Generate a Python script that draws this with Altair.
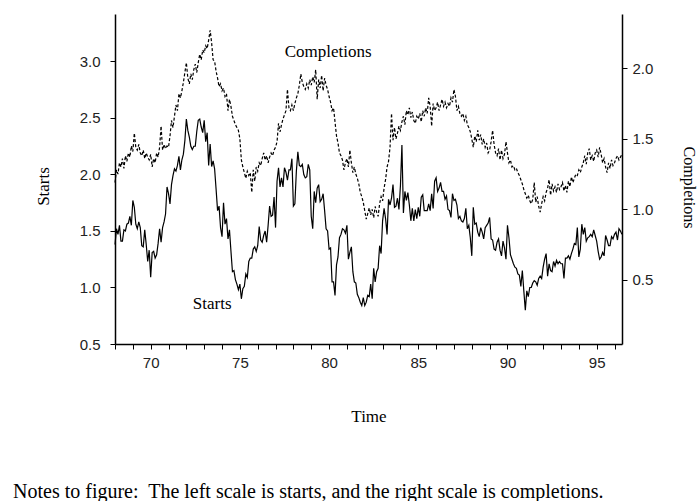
import altair as alt
import pandas as pd

# Monthly housing starts and completions (millions of units, annual rate),
# January 1968 through June 1996.
first_year = 68

starts = [
    # 1968
    1.38, 1.52, 1.47, 1.55, 1.41, 1.41, 1.51, 1.50, 1.56, 1.57, 1.63, 1.55,
    # 1969
    1.77, 1.71, 1.56, 1.52, 1.58, 1.53, 1.37, 1.36, 1.51, 1.38, 1.23, 1.33,
    # 1970
    1.09, 1.31, 1.32, 1.26, 1.29, 1.39, 1.52, 1.40, 1.53, 1.58, 1.65, 1.89,
    # 1971
    1.83, 1.74, 1.91, 1.99, 2.05, 2.03, 2.08, 2.16, 2.04, 2.13, 2.18, 2.30,
    # 1972
    2.49, 2.39, 2.33, 2.25, 2.22, 2.25, 2.25, 2.38, 2.48, 2.49, 2.42, 2.37,
    # 1973
    2.48, 2.29, 2.37, 2.08, 2.27, 2.07, 2.12, 2.05, 1.87, 1.68, 1.72, 1.53,
    # 1974
    1.45, 1.75, 1.56, 1.61, 1.43, 1.51, 1.32, 1.14, 1.15, 1.07, 1.03, 0.98,
    # 1975
    1.03, 0.90, 0.99, 1.01, 1.12, 1.09, 1.23, 1.26, 1.26, 1.34, 1.36, 1.32,
    # 1976
    1.37, 1.54, 1.42, 1.40, 1.46, 1.50, 1.40, 1.55, 1.72, 1.63, 1.64, 1.80,
    # 1977
    1.53, 1.94, 2.06, 1.89, 1.97, 1.89, 2.06, 2.02, 1.95, 2.04, 2.04, 2.14,
    # 1978
    1.72, 1.74, 2.03, 2.20, 2.08, 2.07, 2.09, 2.00, 1.97, 1.98, 2.09, 2.04,
    # 1979
    1.63, 1.52, 1.85, 1.75, 1.88, 1.91, 1.76, 1.78, 1.83, 1.68, 1.52, 1.50,
    # 1980
    1.34, 1.35, 1.05, 1.05, 0.93, 1.20, 1.27, 1.44, 1.47, 1.52, 1.51, 1.48,
    # 1981
    1.55, 1.25, 1.31, 1.36, 1.14, 1.05, 1.04, 0.94, 0.91, 0.87, 0.84, 0.91,
    # 1982
    0.84, 0.87, 0.93, 0.92, 1.03, 0.90, 1.17, 1.05, 1.14, 1.17, 1.37, 1.30,
    # 1983
    1.59, 1.70, 1.61, 1.47, 1.78, 1.73, 1.79, 1.91, 1.71, 1.72, 1.79, 1.69,
    # 1984
    1.90, 2.26, 1.66, 1.85, 1.77, 1.84, 1.73, 1.59, 1.70, 1.59, 1.69, 1.61,
    # 1985
    1.71, 1.63, 1.80, 1.82, 1.68, 1.68, 1.68, 1.74, 1.68, 1.83, 1.70, 1.94,
    # 1986
    1.97, 1.85, 1.88, 1.93, 1.85, 1.85, 1.78, 1.81, 1.69, 1.68, 1.62, 1.83,
    # 1987
    1.77, 1.78, 1.73, 1.61, 1.63, 1.59, 1.58, 1.61, 1.70, 1.52, 1.55, 1.44,
    # 1988
    1.28, 1.71, 1.56, 1.57, 1.49, 1.45, 1.53, 1.49, 1.43, 1.53, 1.55, 1.57,
    # 1989
    1.62, 1.43, 1.42, 1.34, 1.33, 1.40, 1.43, 1.33, 1.28, 1.41, 1.35, 1.25,
    # 1990
    1.55, 1.44, 1.29, 1.25, 1.21, 1.18, 1.17, 1.12, 1.11, 1.01, 1.15, 0.97,
    # 1991
    0.80, 0.97, 0.92, 1.00, 1.00, 1.04, 1.06, 1.05, 1.02, 1.08, 1.10, 1.08,
    # 1992
    1.18, 1.25, 1.30, 1.10, 1.21, 1.15, 1.14, 1.23, 1.19, 1.24, 1.21, 1.23,
    # 1993
    1.21, 1.21, 1.08, 1.26, 1.26, 1.28, 1.25, 1.30, 1.34, 1.39, 1.38, 1.53,
    # 1994
    1.27, 1.34, 1.56, 1.47, 1.53, 1.41, 1.44, 1.45, 1.47, 1.45, 1.51, 1.46,
    # 1995
    1.41, 1.32, 1.25, 1.27, 1.31, 1.28, 1.46, 1.42, 1.37, 1.37, 1.45, 1.43,
    # 1996
    1.47, 1.49, 1.42, 1.52, 1.50, 1.47,
]

completions = [
    # 1968
    1.19, 1.28, 1.25, 1.33, 1.30, 1.36, 1.29, 1.38, 1.34, 1.40, 1.37, 1.45,
    # 1969
    1.41, 1.54, 1.44, 1.42, 1.46, 1.40, 1.38, 1.42, 1.36, 1.40, 1.37, 1.35,
    # 1970
    1.39, 1.30, 1.36, 1.33, 1.40, 1.37, 1.44, 1.59, 1.42, 1.46, 1.43, 1.45,
    # 1971
    1.44, 1.52, 1.63, 1.58, 1.66, 1.74, 1.70, 1.82, 1.79, 1.84, 1.90, 1.97,
    # 1972
    2.04, 1.93, 1.89, 1.96, 1.92, 1.99, 2.03, 1.97, 2.04, 2.10, 2.06, 2.13,
    # 1973
    2.11, 2.16, 2.14, 2.20, 2.27, 2.18, 2.06, 2.05, 1.98, 1.93, 1.87, 1.89,
    # 1974
    1.84, 1.86, 1.80, 1.82, 1.70, 1.78, 1.73, 1.66, 1.63, 1.60, 1.58, 1.56,
    # 1975
    1.50, 1.35, 1.30, 1.26, 1.22, 1.27, 1.24, 1.26, 1.12, 1.28, 1.20, 1.30,
    # 1976
    1.27, 1.33, 1.31, 1.36, 1.40, 1.35, 1.38, 1.33, 1.37, 1.40, 1.38, 1.42,
    # 1977
    1.44, 1.48, 1.61, 1.55, 1.60, 1.64, 1.67, 1.70, 1.85, 1.72, 1.70, 1.74,
    # 1978
    1.70, 1.75, 1.79, 1.82, 1.88, 1.96, 1.90, 1.87, 1.85, 1.89, 1.86, 1.92,
    # 1979
    1.88, 1.94, 1.90, 1.99, 1.78, 1.92, 1.86, 1.95, 1.84, 1.93, 1.88, 1.85,
    # 1980
    1.80, 1.76, 1.70, 1.72, 1.62, 1.52, 1.47, 1.40, 1.38, 1.35, 1.28, 1.33,
    # 1981
    1.36, 1.30, 1.42, 1.33, 1.26, 1.30, 1.25, 1.22, 1.18, 1.12, 1.09, 1.05,
    # 1982
    0.99, 0.93, 0.97, 1.01, 0.96, 1.00, 0.94, 1.02, 0.98, 0.95, 1.04, 1.09,
    # 1983
    1.06, 1.15, 1.21, 1.30, 1.34, 1.44, 1.68, 1.49, 1.58, 1.50, 1.54, 1.59,
    # 1984
    1.56, 1.62, 1.66, 1.60, 1.70, 1.67, 1.72, 1.65, 1.69, 1.63, 1.61, 1.66,
    # 1985
    1.64, 1.68, 1.62, 1.70, 1.66, 1.72, 1.68, 1.79, 1.73, 1.59, 1.75, 1.70,
    # 1986
    1.72, 1.76, 1.70, 1.74, 1.78, 1.73, 1.76, 1.72, 1.75, 1.73, 1.79, 1.76,
    # 1987
    1.85, 1.80, 1.70, 1.73, 1.68, 1.66, 1.68, 1.63, 1.66, 1.60, 1.58, 1.55,
    # 1988
    1.50, 1.44, 1.52, 1.48, 1.56, 1.49, 1.53, 1.46, 1.50, 1.44, 1.47, 1.40,
    # 1989
    1.42, 1.48, 1.56, 1.46, 1.40, 1.38, 1.43, 1.35, 1.42, 1.36, 1.39, 1.48,
    # 1990
    1.40, 1.33, 1.35, 1.30, 1.31, 1.28, 1.29, 1.26, 1.24, 1.21, 1.18, 1.14,
    # 1991
    1.11, 1.08, 1.10, 1.06, 1.04, 1.07, 1.19, 1.05, 1.09, 1.02, 0.98, 1.04,
    # 1992
    1.09, 1.06, 1.12, 1.15, 1.21, 1.10, 1.18, 1.13, 1.16, 1.12, 1.18, 1.14,
    # 1993
    1.16, 1.19, 1.13, 1.17, 1.12, 1.20, 1.16, 1.23, 1.19, 1.22, 1.25, 1.24,
    # 1994
    1.28, 1.26, 1.30, 1.33, 1.38, 1.32, 1.40, 1.43, 1.35, 1.38, 1.34, 1.40,
    # 1995
    1.42, 1.37, 1.44, 1.39, 1.33, 1.36, 1.30, 1.26, 1.33, 1.29, 1.35, 1.31,
    # 1996
    1.33, 1.36, 1.38, 1.35, 1.37, 1.39,
]

year_ticks = list(range(68, 97))
starts_ticks = [0.5, 1.0, 1.5, 2.0, 2.5, 3.0]
completions_ticks = [0.5, 1.0, 1.5, 2.0]

# In-plot series labels, placed on the starts scale
label_text = ["Completions", "Starts"]
label_x = [79.95, 73.45]
label_y = [3.08, 0.855]

note_text = "Notes to figure:\u00a0 The left scale is starts, and the right scale is completions."

df = pd.DataFrame({
    "time": [first_year + i / 12 for i in range(len(starts))],
    "starts": starts,
    "completions": completions,
})
labels = pd.DataFrame({"time": label_x, "level": label_y, "label": label_text})
note = pd.DataFrame({"note": [note_text]})

SERIF = "Liberation Serif"
SANS = "Liberation Sans"

x_scale = alt.Scale(domain=[68, 96.42], nice=False, zero=False)
x_axis = alt.Axis(
    values=year_ticks,
    labelExpr="datum.value % 5 == 0 ? format(datum.value, 'd') : ''",
    title="Time", titleFont=SERIF, titleFontSize=17, titleFontWeight="normal",
    titleBaseline="alphabetic", titleY=77,
    labelFont=SANS, labelFontSize=15, labelColor="#222", labelPadding=6,
    labelOverlap=False,
    tickSize=5, tickColor="black", domainColor="black", domainWidth=1.5,
    grid=False,
)

starts_axis = alt.Axis(
    values=starts_ticks, format=".1f", orient="left",
    title="Starts", titleFont=SERIF, titleFontSize=17, titleFontWeight="normal",
    titleX=-72, titleY=172, titleBaseline="middle", titleAlign="center", titleAngle=270,
    labelFont=SANS, labelFontSize=15, labelColor="#222", labelPadding=10,
    tickSize=5, tickColor="black", domainColor="black", domainWidth=1.5,
    grid=False,
)

completions_axis = alt.Axis(
    values=completions_ticks, format=".1f", orient="right",
    title="Completions", titleFont=SERIF, titleFontSize=16, titleFontWeight="normal",
    titleX=66, titleY=173, titleBaseline="middle", titleAlign="center", titleAngle=90,
    labelFont=SANS, labelFontSize=15, labelColor="#222", labelPadding=5,
    tickSize=5, tickColor="black", domainColor="black", domainWidth=1.5,
    grid=False,
)

starts_scale = alt.Scale(domain=[0.5, 3.42], nice=False, zero=False)
completions_scale = alt.Scale(domain=[0.045, 2.385], nice=False, zero=False)

starts_line = alt.Chart(df).mark_line(color="black", strokeWidth=1.2).encode(
    x=alt.X("time:Q", scale=x_scale, axis=x_axis),
    y=alt.Y("starts:Q", scale=starts_scale, axis=starts_axis),
)

series_labels = alt.Chart(labels).mark_text(
    font=SERIF, fontSize=17, color="black", align="center", baseline="middle"
).encode(
    x=alt.X("time:Q", scale=x_scale, axis=x_axis),
    y=alt.Y("level:Q", scale=starts_scale, axis=starts_axis),
    text="label:N",
)

completions_line = alt.Chart(df).mark_line(
    color="black", strokeWidth=1.2, strokeDash=[3, 2]
).encode(
    x=alt.X("time:Q", scale=x_scale, axis=x_axis),
    y=alt.Y("completions:Q", scale=completions_scale, axis=completions_axis),
)

note_mark = alt.Chart(note).mark_text(
    font=SERIF, fontSize=20, color="black", align="left", baseline="alphabetic"
).encode(
    x=alt.value(-102),
    y=alt.value(484),
    text="note:N",
)

chart = alt.layer(
    alt.layer(starts_line, series_labels),
    completions_line,
    note_mark,
).resolve_scale(y="independent").properties(
    width=507,
    height=330,
    autosize=alt.AutoSizeParams(type="none"),
    padding={"left": 115, "top": 14, "right": 77, "bottom": 157},
    background="white",
).configure_view(stroke=None)

chart.save("out.html", embed_options={"renderer": "svg", "actions": False})
